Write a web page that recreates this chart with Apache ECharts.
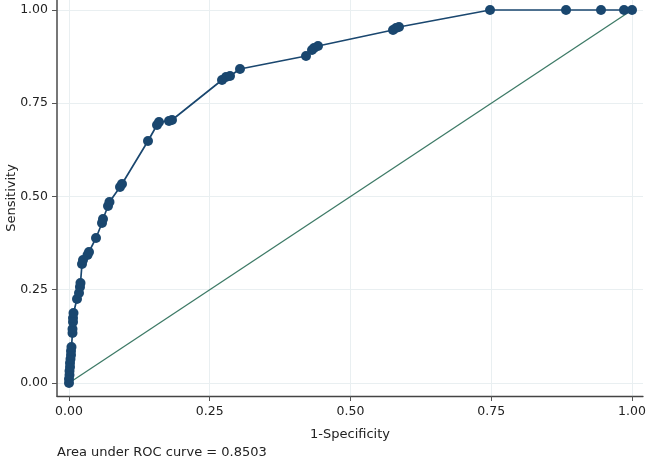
<!DOCTYPE html>
<html><head><meta charset="utf-8">
<script src="https://cdn.jsdelivr.net/npm/echarts@6/dist/echarts.min.js"></script>
<style>html,body{margin:0;padding:0;background:#fff}#c{width:657px;height:463px}</style>
</head><body><div id="c"></div>
<script>
// 1-Specificity (x) and Sensitivity (y) of the ROC curve points
const rocX = [0,0,0.0009,0.0009,0.0018,0.0018,0.0027,0.0036,0.0036,0.0044,0.0062,0.0062,0.0071,0.0071,0.0080,0.0142,0.0178,0.0195,0.0204,0.0231,0.0249,0.0329,0.0355,0.0480,0.0586,0.0604,0.0693,0.0719,0.0906,0.0941,0.1403,0.1563,0.1599,0.1776,0.1829,0.2718,0.2789,0.2860,0.3037,0.4210,0.4316,0.4352,0.4423,0.5755,0.5808,0.5861,0.7478,0.8828,0.9449,0.9858,1];
const rocY = [0,0.0107,0.0214,0.0322,0.0429,0.0536,0.0643,0.0751,0.0858,0.0965,0.1340,0.1448,0.1635,0.1743,0.1877,0.2252,0.2413,0.2574,0.2681,0.3190,0.3298,0.3432,0.3512,0.3887,0.4290,0.4397,0.4745,0.4853,0.5255,0.5335,0.6488,0.6917,0.6997,0.7024,0.7051,0.8123,0.8204,0.8231,0.8418,0.8767,0.8928,0.8981,0.9035,0.9464,0.9517,0.9544,1,1,1,1,1];
const refX = [0, 1];
const refY = [0, 1];
const xTicks = [0, 0.25, 0.5, 0.75, 1];
const yTicks = [0, 0.25, 0.5, 0.75, 1];
const xTitle = '1-Specificity';
const yTitle = 'Sensitivity';
const note = 'Area under ROC curve = 0.8503';

const FONT = 'DejaVu Sans';
const chart = echarts.init(document.getElementById('c'), null, {renderer: 'canvas'});
const gridLines = xTicks.map(v => ({xAxis: v})).concat(yTicks.map(v => ({yAxis: v})));
chart.setOption({
  animation: false,
  backgroundColor: '#fff',
  textStyle: {fontFamily: FONT},
  grid: {left: 57, right: 14, top: 0, bottom: 67, outerBoundsMode: 'none', containLabel: false},
  xAxis: {
    type: 'value', min: -0.0213, max: 1.0195,
    name: xTitle, nameLocation: 'middle', nameGap: 32, nameMoveOverlap: false,
    nameTextStyle: {fontFamily: FONT, fontSize: 13, color: '#222'},
    axisLine: {show: true, onZero: false, lineStyle: {color: '#444', width: 1.3}},
    axisTick: {show: true, length: 5, customValues: xTicks, lineStyle: {color: '#555'}},
    axisLabel: {customValues: xTicks, formatter: v => v.toFixed(2), margin: 9, fontFamily: FONT, fontSize: 12.5, color: '#222'},
    splitLine: {show: false}
  },
  yAxis: {
    type: 'value', min: -0.0349, max: 1.0268,
    name: yTitle, nameLocation: 'middle', nameGap: 39, nameMoveOverlap: false,
    nameTextStyle: {fontFamily: FONT, fontSize: 13, color: '#222'},
    axisLine: {show: true, onZero: false, lineStyle: {color: '#777', width: 2}},
    axisTick: {show: true, length: 5, customValues: yTicks, lineStyle: {color: '#555'}},
    axisLabel: {customValues: yTicks, formatter: v => v.toFixed(2), margin: 9, fontFamily: FONT, fontSize: 12.5, color: '#222'},
    splitLine: {show: false}
  },
  graphic: [{
    type: 'text', left: 57, top: 446,
    style: {text: note, font: '13px "DejaVu Sans"', fill: '#222'}
  }],
  series: [
    {
      type: 'line', data: [], z: 0,
      markLine: {silent: true, z: 0, symbol: 'none', label: {show: false},
        lineStyle: {color: '#e9eff1', width: 1, type: 'solid'}, data: gridLines, animation: false}
    },
    {
      type: 'line', data: refX.map((x, i) => [x, refY[i]]), showSymbol: false, z: 2,
      lineStyle: {color: '#3d7a66', width: 1.3}
    },
    {
      type: 'line', data: rocX.map((x, i) => [x, rocY[i]]), z: 3,
      symbol: 'circle', symbolSize: 10, showAllSymbol: true,
      itemStyle: {color: '#1a476f'},
      lineStyle: {color: '#1a476f', width: 1.7}
    }
  ]
});
</script></body></html>
